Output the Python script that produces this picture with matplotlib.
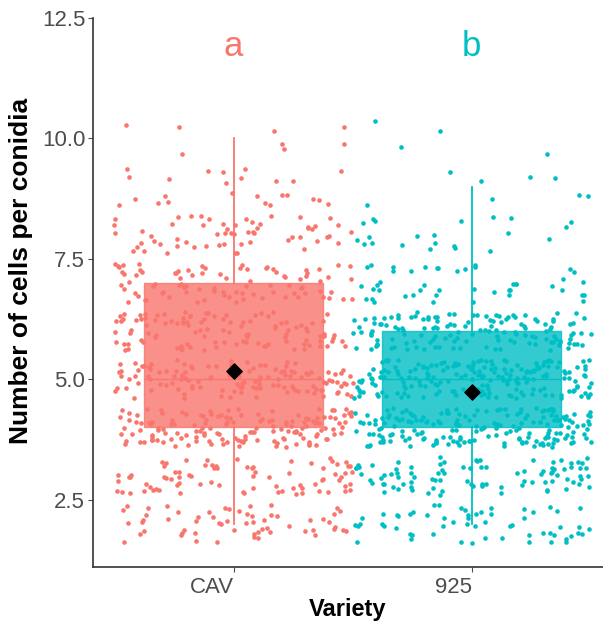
import numpy as np
import matplotlib
matplotlib.use("Agg")
import matplotlib.pyplot as plt

plt.rcParams['font.family'] = ['Liberation Sans', 'DejaVu Sans']

cell_values = [2, 3, 4, 5, 6, 7, 8, 9, 10]
cav_counts = [60, 80, 150, 130, 110, 90, 60, 25, 8]
v925_counts = [60, 90, 190, 200, 140, 45, 22, 8, 4]

varieties = ["CAV", "925"]
letters = ["a", "b"]
colors = ["#F8766D", "#00BFC4"]


def expand(counts):
    return np.repeat(cell_values, counts).astype(float)


def jitter(n, offset):
    # deterministic quadratic Weyl spread, display only (no rng)
    i = np.arange(1, n + 1, dtype=float) + offset
    jx = (i * i * np.sqrt(2) + i * 0.3183) % 1.0
    jy = (i * i * np.sqrt(3) + i * 0.7071) % 1.0
    return jx, jy


def main():
    fig = plt.figure(figsize=(6.03, 6.21), dpi=100)
    ax = fig.add_axes([0.154, 0.087, 0.846, 0.884])

    groups = [expand(cav_counts), expand(v925_counts)]

    for k, (vals, col) in enumerate(zip(groups, colors)):
        pos = k + 1
        jx, jy = jitter(len(vals), 1000 * k)
        xs = pos + (jx - 0.5) * 1.0
        ys = vals + (jy - 0.5) * 0.8
        ax.scatter(xs, ys, s=11, color=col, linewidths=0, zorder=2)

        bp = ax.boxplot([vals], positions=[pos], widths=0.75, patch_artist=True,
                        showfliers=False, showcaps=False, whis=1.5, zorder=3)
        for b in bp['boxes']:
            b.set_facecolor(col)
            b.set_alpha(0.8)
            b.set_edgecolor(col)
            b.set_linewidth(1.0)
        for w in bp['whiskers']:
            w.set_color(col)
            w.set_linewidth(1.3)
            w.set_zorder(3)
        for m in bp['medians']:
            m.set_color(col)
            m.set_linewidth(1.0)
            m.set_zorder(4)

        ax.scatter([pos], [vals.mean()], marker='D', s=60, color='black', zorder=5)
        ax.text(pos, 11.72, letters[k], color=col, fontsize=25, ha='center', va='baseline')

    ax.set_xlim(0.41, 2.55)
    ax.set_ylim(1.1, 12.5)
    ax.set_xticks([1, 2])
    ax.set_xticklabels(varieties, ha='right')
    ax.set_yticks([2.5, 5.0, 7.5, 10.0, 12.5])
    ax.set_yticklabels(["2.5", "5.0", "7.5", "10.0", "12.5"])
    ax.tick_params(labelsize=16, colors='#4D4D4D', length=3.5, width=0.8)
    ax.tick_params(axis='y', pad=2)
    for s in ['top', 'right']:
        ax.spines[s].set_visible(False)
    for s in ['left', 'bottom']:
        ax.spines[s].set_color('#333333')
        ax.spines[s].set_linewidth(1.2)

    ax.set_xlabel("Variety", fontsize=17, fontweight='bold', labelpad=0)
    ax.set_ylabel("Number of cells per conidia", fontsize=19, fontweight='bold')
    ax.yaxis.set_label_coords(-0.118, 0.54)

    fig.savefig("out.png", dpi=100)


if __name__ == '__main__':
    main()
